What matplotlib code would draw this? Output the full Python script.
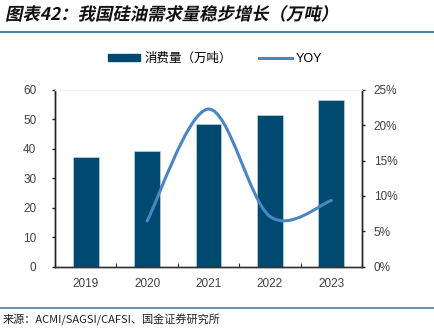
import matplotlib
matplotlib.use('Agg')
import matplotlib.pyplot as plt
import matplotlib.patches as mpatches
from matplotlib.path import Path
from matplotlib.lines import Line2D
from matplotlib.textpath import TextPath
from matplotlib.font_manager import FontProperties
from matplotlib.transforms import Affine2D
import numpy as np

plt.rcParams['font.family'] = ['Liberation Sans', 'Noto Sans CJK SC', 'DejaVu Sans']

years = ['2019', '2020', '2021', '2022', '2023']
consumption = [37.1, 39.4, 48.3, 51.5, 56.5]
yoy_years = [1, 2, 3, 4]
yoy = [6.45, 22.3, 7.1, 9.35]

bar_color = '#004A72'
line_color = '#4A86C6'
rule_color = '#4F7FA8'
tick_color = '#404040'

DPI = 100
fig = plt.figure(figsize=(4.35, 3.28), dpi=DPI)
ax = fig.add_axes([55/435, 1-266.5/328, (362-55)/435, (266.5-90)/328])
ax2 = ax.twinx()

x = np.arange(len(years))
ax.bar(x, consumption, width=0.42, color=bar_color, edgecolor='#cfe0ea', linewidth=0.4, zorder=2)
ax.set_xlim(-0.5, 4.5)
ax.set_ylim(0, 60)
ax.set_yticks(range(0, 61, 10))
ax.set_xticks(x)
ax.set_xticklabels(years)
ax.set_xticks(np.arange(-0.5, 4.6, 1), minor=True)
ax.tick_params(axis='x', which='major', length=0, pad=8, labelsize=8.5, labelcolor=tick_color)
ax.tick_params(axis='x', which='minor', direction='in', length=3, width=0.8, color='#333333')
ax.tick_params(axis='y', direction='out', length=2.5, width=1, pad=11, labelsize=8.5,
               labelcolor=tick_color, color='#222222')

ax2.set_ylim(0, 25)
ax2.set_yticks(range(0, 26, 5))
ax2.set_yticklabels([f'{v}%' for v in range(0, 26, 5)])
ax2.tick_params(axis='y', direction='out', length=2.5, width=1, pad=6, labelsize=8.5,
                labelcolor=tick_color, color='#222222')

# smoothed line built from bezier segments through the yoy points
pts = np.column_stack([yoy_years, yoy]).astype(float)
verts = [tuple(pts[0])]
codes = [Path.MOVETO]
n = len(pts)
for i in range(n - 1):
    p0 = pts[max(i - 1, 0)]
    p1 = pts[i]
    p2 = pts[i + 1]
    p3 = pts[min(i + 2, n - 1)]
    c1 = p1 + (p2 - p0) / 6
    c2 = p2 - (p3 - p1) / 6
    verts += [tuple(c1), tuple(c2), tuple(p2)]
    codes += [Path.CURVE4] * 3
ax2.add_patch(mpatches.PathPatch(Path(verts, codes), facecolor='none', edgecolor=line_color,
                                 linewidth=2.2, capstyle='round', zorder=3))

for a in (ax, ax2):
    a.spines['top'].set_color('#eeeeee')
    a.spines['top'].set_linewidth(0.8)
    a.spines['left'].set_color('#222222')
    a.spines['right'].set_color('#222222')
    a.spines['bottom'].set_color('#333333')
    a.spines['left'].set_linewidth(1.0)
    a.spines['right'].set_linewidth(1.0)
    a.spines['bottom'].set_linewidth(1.0)

handles = [mpatches.Patch(color=bar_color, label='消费量（万吨）'),
           Line2D([0], [0], color=line_color, linewidth=2.2, label='YOY')]
fig.legend(handles=handles, loc='center', bbox_to_anchor=(215/435, 1-59/328), ncol=2,
           frameon=False, handlelength=2.6, handleheight=0.5,
           handletextpad=0.3, columnspacing=2.2,
           prop={'family': ['Liberation Sans', 'Noto Sans CJK SC'], 'size': 9})

# title, slanted by hand since the CJK font has no italic
title = '图表42：我国硅油需求量稳步增长（万吨）'
tp = TextPath((0, 0), title, size=12.5,
              prop=FontProperties(family='Noto Sans CJK SC', weight='bold'))
title_tr = Affine2D().skew_deg(12, 0).scale(DPI / 72).translate(5, 328 - 20)
fig.add_artist(mpatches.PathPatch(tp, facecolor='#111111', edgecolor='none',
                                  transform=title_tr))

fig.add_artist(Line2D([0, 1], [1-31.5/328, 1-31.5/328], color=rule_color, linewidth=1.5,
                      transform=fig.transFigure))
fig.add_artist(Line2D([0, 1], [1-307.5/328, 1-307.5/328], color=rule_color, linewidth=1.2,
                      transform=fig.transFigure))
fig.text(3/435, 1-320/328, '来源：ACMI/SAGSI/CAFSI、国金证券研究所', fontsize=8,
         va='center', ha='left', color='#222222', family=['Noto Sans CJK SC', 'DejaVu Sans'])

fig.savefig('out.png', dpi=DPI)
